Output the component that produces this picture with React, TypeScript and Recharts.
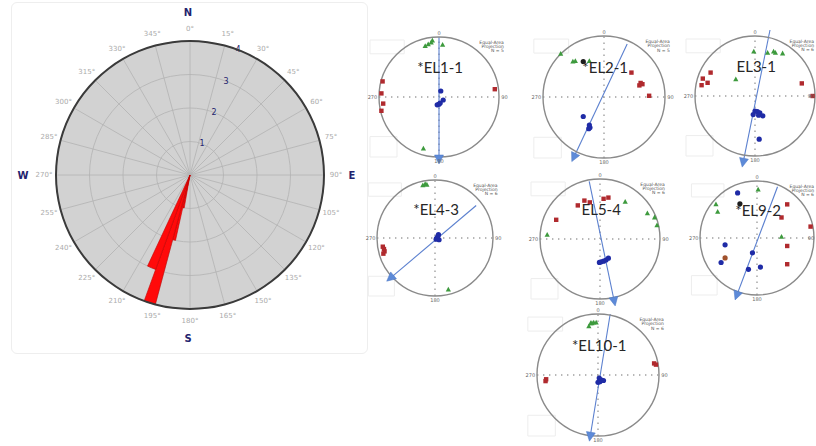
import React from 'react';
import {
  RadarChart,
  PolarGrid,
  PolarAngleAxis,
  PolarRadiusAxis,
  Radar,
  PieChart,
  Pie,
  ScatterChart,
  Scatter,
  XAxis,
  YAxis,
  ReferenceLine,
  ReferenceDot,
  ReferenceArea,
} from 'recharts';

// ---------- Rose diagram data ----------
const DIRECTIONS = [
  '0°', '15°', '30°', '45°', '60°', '75°', '90°', '105°', '120°', '135°', '150°', '165°',
  '180°', '195°', '210°', '225°', '240°', '255°', '270°', '285°', '300°', '315°', '330°', '345°',
];
const RING_COUNTS = [1, 2, 3, 4];
const MAX_COUNT = 4;
const PETAL_START = [190, 192.5, 195, 200];
const PETAL_END = [192.5, 195, 200, 205];
const PETAL_COUNT = [1, 2, 4, 3];

// ---------- Stereonet data (unit circle, x east, y north) ----------
const EL1_1_RED = [[-0.94, 0.26], [-0.96, 0.06], [-0.93, -0.11], [-0.96, -0.23], [0.93, 0.13]];
const EL1_1_GREEN = [[-0.23, 0.85], [-0.18, 0.88], [-0.13, 0.91], [-0.11, 0.94], [0.06, 0.87], [-0.26, -0.86]];
const EL1_1_BLUE = [[0.03, 0.1], [0.07, -0.05], [0, -0.12], [-0.03, -0.13], [0.02, -0.1]];
const EL1_1_LINE = [[0, 1.0], [0, -1.05]];

const EL2_1_RED = [[0.45, 0.4], [0.6, 0.23], [0.63, 0.21], [0.58, 0.19], [0.74, 0.02]];
const EL2_1_GREEN = [[-0.71, 0.71], [-0.24, 0.59], [-0.51, 0.58], [-0.47, 0.59]];
const EL2_1_BLUE = [[-0.34, -0.32], [-0.24, -0.46], [-0.23, -0.5], [-0.25, -0.52]];
const EL2_1_BLACK = [[-0.34, 0.58]];
const EL2_1_LINE = [[0.38, 0.87], [-0.5, -1.0]];

const EL3_1_RED = [[-0.74, 0.39], [-0.87, 0.29], [-0.79, 0.22], [-0.89, 0.18], [0.78, 0.21], [0.96, 0]];
const EL3_1_GREEN = [[-0.02, 0.74], [0.21, 0.72], [0.31, 0.74], [0.34, 0.72], [0.46, 0.71], [-0.32, 0.28]];
const EL3_1_BLUE = [[0, -0.25], [0.04, -0.26], [0.08, -0.28], [-0.03, -0.31], [0.06, -0.32], [0.13, -0.33], [0.07, -0.72]];
const EL3_1_LINE = [[0.25, 1.1], [-0.2, -1.12]];

const EL4_3_RED = [[-0.9, -0.15], [-0.88, -0.19], [-0.87, -0.23], [-0.89, -0.27]];
const EL4_3_GREEN = [[-0.21, 0.91], [-0.17, 0.93], [-0.14, 0.92], [0.23, -0.89]];
const EL4_3_BLUE = [[0.06, 0.06], [0.03, 0], [0.07, -0.03], [0.02, -0.02], [0.05, 0.03]];
const EL4_3_LINE = [[0.71, 0.56], [-0.78, -0.7]];

const EL5_4_RED = [[-0.37, 0.56], [-0.26, 0.64], [-0.17, 0.61], [0.06, 0.67], [0.14, 0.69], [-0.73, 0.32]];
const EL5_4_GREEN = [[0.42, 0.62], [0.79, 0.43], [0.91, 0.36], [0.95, 0.23], [-0.88, 0.07]];
const EL5_4_BLUE = [[0.02, -0.38], [0.06, -0.37], [0.1, -0.35], [0.14, -0.32], [-0.01, -0.39]];
const EL5_4_LINE = [[-0.18, 0.96], [0.24, -1.05]];

const EL9_2_RED = [[0.53, 0.59], [0.43, 0.36], [0.94, 0.2], [0.53, -0.14], [0.53, -0.46]];
const EL9_2_GREEN = [[-0.72, 0.59], [-0.69, 0.46], [0.02, 0.85], [0.43, 0.02]];
const EL9_2_BLUE = [[-0.34, 0.79], [-0.56, -0.12], [-0.08, -0.26], [-0.63, -0.43], [-0.15, -0.55], [0.06, -0.51]];
const EL9_2_BLACK = [[-0.3, 0.6]];
const EL9_2_BROWN = [[-0.56, -0.35]];
const EL9_2_LINE = [[0.36, 0.9], [-0.36, -1.02]];

const EL10_1_RED = [[0.92, 0.19], [0.95, 0.17], [-0.86, -0.1], [-0.85, -0.07]];
const EL10_1_GREEN = [[-0.15, 0.8], [-0.12, 0.85], [-0.1, 0.85], [-0.07, 0.86], [-0.03, 0.86]];
const EL10_1_BLUE = [[0.02, -0.05], [0.05, -0.08], [0.03, -0.11], [0.09, -0.09], [0, -0.12]];
const EL10_1_LINE = [[0.2, 1.0], [-0.13, -1.02]];

// ---------- Layout ----------
const PAGE_W = 816;
const ROSE_CX = 190;
const ROSE_CY = 175;
const ROSE_R = 134;
const NAVY = '#23236e';

type Pt = number[];
type NetProps = {
  cx: number;
  cy: number;
  r: number;
  name: string;
  n: string;
  red: Pt[];
  green: Pt[];
  blue: Pt[];
  black?: Pt[];
  brown?: Pt[];
  line: Pt[];
};

const toXY = (pts: Pt[]) => pts.map(([x, y]) => ({ x, y }));
const countToRadius = (c: number) => (c / MAX_COUNT) * ROSE_R;

const AngleTick = (props: any) => {
  const a = (props.payload.coordinate * Math.PI) / 180;
  const rr = ROSE_R + 12;
  const x = ROSE_CX + rr * Math.cos(a);
  const y = ROSE_CY - rr * Math.sin(a);
  return (
    <text x={x} y={y} textAnchor="middle" dominantBaseline="central" fontSize={7} fill="#ababab" fontFamily="DejaVu Sans">
      {props.payload.value}
    </text>
  );
};

const RadiusTick = (props: any) => (
  <text x={props.x} y={props.y} textAnchor="middle" dominantBaseline="central" fontSize={8} fill={NAVY} fontFamily="DejaVu Sans">
    {props.payload.value}
  </text>
);

function RoseDiagram() {
  const dirData = DIRECTIONS.map((d) => ({ dir: d, zero: 0 }));
  const one = [{ v: 1 }];
  return (
    <>
      <div style={{ position: 'absolute', left: 11, top: 2, width: 355, height: 350, border: '1px solid #eeeeee', borderRadius: 6 }} />
      <div style={{ position: 'absolute', left: 0, top: 0 }}>
        <PieChart width={380} height={360} margin={{ top: 0, right: 0, bottom: 0, left: 0 }}>
          <Pie data={one} dataKey="v" cx={ROSE_CX} cy={ROSE_CY} innerRadius={0} outerRadius={ROSE_R}
            startAngle={90} endAngle={-270} fill="#d2d2d2" stroke="none" isAnimationActive={false} />
        </PieChart>
      </div>
      <div style={{ position: 'absolute', left: 0, top: 0 }}>
        <RadarChart width={380} height={360} cx={ROSE_CX} cy={ROSE_CY} outerRadius={ROSE_R} data={dirData}
          margin={{ top: 0, right: 0, bottom: 0, left: 0 }}>
          <PolarGrid gridType="circle" stroke="#b3b3b3" strokeWidth={0.8}
            polarRadius={RING_COUNTS.map(countToRadius)}
            polarAngles={DIRECTIONS.map((_, i) => 90 - 15 * i)} />
          <PolarAngleAxis dataKey="dir" tick={AngleTick} axisLine={false} tickLine={false} />
          <PolarRadiusAxis type="number" domain={[0, MAX_COUNT]} ticks={RING_COUNTS} angle={69}
            axisLine={false} tickLine={false} tick={RadiusTick} />
          <Radar dataKey="zero" stroke="none" fill="none" isAnimationActive={false} />
        </RadarChart>
      </div>
      <div style={{ position: 'absolute', left: 0, top: 0 }}>
        <PieChart width={380} height={360} margin={{ top: 0, right: 0, bottom: 0, left: 0 }}>
          {PETAL_COUNT.map((c, i) => (
            <Pie key={i} data={one} dataKey="v" cx={ROSE_CX} cy={ROSE_CY} innerRadius={0}
              outerRadius={countToRadius(c)} startAngle={90 - PETAL_START[i]} endAngle={90 - PETAL_END[i]}
              fill="#ff0a0a" stroke="#c40000" strokeWidth={0.6} isAnimationActive={false} />
          ))}
          <Pie data={one} dataKey="v" cx={ROSE_CX} cy={ROSE_CY} innerRadius={ROSE_R - 1} outerRadius={ROSE_R + 1}
            startAngle={90} endAngle={-270} fill="#3a3a3a" stroke="none" isAnimationActive={false} />
        </PieChart>
      </div>
      {[
        ['N', ROSE_CX - 2, 13],
        ['S', ROSE_CX - 2, 339],
        ['W', 23, ROSE_CY + 1],
        ['E', 352, ROSE_CY + 1],
      ].map(([t, x, y]) => (
        <div key={t as string} style={{
          position: 'absolute', left: (x as number) - 10, top: (y as number) - 8, width: 20, height: 16,
          textAlign: 'center', lineHeight: '16px', fontFamily: 'DejaVu Sans', fontWeight: 'bold', fontSize: 10, color: NAVY,
        }}>{t}</div>
      ))}
    </>
  );
}

// Small marker shapes for the stereonet points
const squareMark = (color: string) => (p: any) => (
  <rect x={p.cx - 2.2} y={p.cy - 2.2} width={4.4} height={4.4} fill={color} />
);
const triangleMark = (color: string) => (p: any) => (
  <polygon points={`${p.cx},${p.cy - 2.8} ${p.cx - 2.6},${p.cy + 2} ${p.cx + 2.6},${p.cy + 2}`} fill={color} />
);
const dotMark = (color: string) => (p: any) => <circle cx={p.cx} cy={p.cy} r={2.6} fill={color} />;

// Text placed at a reference point; maxX keeps it inside the page edge
const textShape = (text: string, size: number, anchor: string, color: string, maxX = Infinity, family = 'DejaVu Sans') => (p: any) => {
  const half = anchor === 'middle' ? (text.length * size * 0.62) / 2 : 0;
  const x = anchor === 'start' ? p.cx : Math.min(p.cx, maxX - half);
  return (
    <text x={x} y={p.cy} textAnchor={anchor} dominantBaseline="central" fontSize={size} fill={color} fontFamily={family}>
      {text}
    </text>
  );
};

function Stereonet({ cx, cy, r, name, n, red, green, blue, black, brown, line }: NetProps) {
  const pad = 30;
  const size = 2 * (r + pad);
  const ext = (r + pad) / r;
  const left = cx - r - pad;
  const maxX = PAGE_W - 2 - left;
  const [a, b] = line;
  const ang = Math.atan2(-(b[1] - a[1]), b[0] - a[0]);
  const arrowShape = (p: any) => {
    const L = 9;
    const W = 4.5;
    const ux = Math.cos(ang);
    const uy = Math.sin(ang);
    const tipX = p.cx + ux * 4;
    const tipY = p.cy + uy * 4;
    const bx = tipX - ux * L;
    const by = tipY - uy * L;
    const pts = `${tipX},${tipY} ${bx - uy * W},${by + ux * W} ${bx + uy * W},${by - ux * W}`;
    return <polygon points={pts} fill="#5d8ad8" stroke="#4a76c4" strokeWidth={0.5} />;
  };
  return (
    <div style={{ position: 'absolute', left, top: cy - r - pad }}>
      <ScatterChart width={size} height={size} margin={{ top: 0, right: 0, bottom: 0, left: 0 }}>
        <XAxis type="number" dataKey="x" domain={[-ext, ext]} hide allowDataOverflow />
        <YAxis type="number" dataKey="y" domain={[-ext, ext]} hide allowDataOverflow />
        <ReferenceArea x1={-1.15} x2={-0.58} y1={0.72} y2={0.95} fill="none" stroke="#ededed" ifOverflow="visible" />
        <ReferenceArea x1={-1.15} x2={-0.7} y1={-1.0} y2={-0.66} fill="none" stroke="#ededed" ifOverflow="visible" />
        <ReferenceDot x={0} y={0} r={r} fill="none" stroke="#8a8a8a" strokeWidth={1.4} ifOverflow="visible" />
        <ReferenceLine segment={[{ x: -1, y: 0 }, { x: 1, y: 0 }]} stroke="#a0a0a0" strokeWidth={1.4} strokeDasharray="1.4 4.6" />
        <ReferenceLine segment={[{ x: 0, y: -1 }, { x: 0, y: 1 }]} stroke="#a0a0a0" strokeWidth={1.4} strokeDasharray="1.4 4.6" />
        <ReferenceLine segment={[{ x: a[0], y: a[1] }, { x: b[0], y: b[1] }]} stroke="#5b80cf" strokeWidth={1.1} ifOverflow="visible" />
        <Scatter data={toXY(red)} shape={squareMark('#b02a2e')} isAnimationActive={false} />
        <Scatter data={toXY(green)} shape={triangleMark('#3d9a3d')} isAnimationActive={false} />
        <Scatter data={toXY(blue)} shape={dotMark('#1f2ba6')} isAnimationActive={false} />
        {black && <Scatter data={toXY(black)} shape={dotMark('#1d1d1d')} isAnimationActive={false} />}
        {brown && <Scatter data={toXY(brown)} shape={dotMark('#a0522d')} isAnimationActive={false} />}
        <Scatter data={[{ x: b[0], y: b[1] }]} shape={arrowShape} isAnimationActive={false} />
        <ReferenceDot x={0} y={1.07} r={0} shape={textShape('0', 5, 'middle', '#666')} ifOverflow="visible" />
        <ReferenceDot x={1.09} y={0} r={0} shape={textShape('90', 5, 'middle', '#666', maxX)} ifOverflow="visible" />
        <ReferenceDot x={0} y={-1.07} r={0} shape={textShape('180', 5, 'middle', '#666')} ifOverflow="visible" />
        <ReferenceDot x={-1.11} y={0} r={0} shape={textShape('270', 5, 'middle', '#666')} ifOverflow="visible" />
        <ReferenceDot x={1.08} y={0.91} r={0} shape={textShape('Equal-Area', 4.5, 'end', '#555', maxX)} ifOverflow="visible" />
        <ReferenceDot x={1.08} y={0.84} r={0} shape={textShape('Projection', 4.5, 'end', '#555', maxX)} ifOverflow="visible" />
        <ReferenceDot x={1.08} y={0.77} r={0} shape={textShape(`N = ${n}`, 4.5, 'end', '#555', maxX)} ifOverflow="visible" />
        <ReferenceDot x={0.02} y={0.5} r={0} shape={textShape(name, 15, 'middle', '#262626', Infinity, 'Lato')} ifOverflow="visible" />
      </ScatterChart>
    </div>
  );
}

export default function App() {
  return (
    <div style={{ position: 'fixed', left: 0, top: 0, width: PAGE_W, height: 446, overflow: 'hidden', background: '#ffffff' }}>
      <RoseDiagram />
      <Stereonet cx={439} cy={97} r={60} name="*EL1-1" n="5" red={EL1_1_RED} green={EL1_1_GREEN} blue={EL1_1_BLUE} line={EL1_1_LINE} />
      <Stereonet cx={604} cy={97} r={61} name="*EL2-1" n="5" red={EL2_1_RED} green={EL2_1_GREEN} blue={EL2_1_BLUE} black={EL2_1_BLACK} line={EL2_1_LINE} />
      <Stereonet cx={755} cy={96} r={60} name="EL3-1" n="6" red={EL3_1_RED} green={EL3_1_GREEN} blue={EL3_1_BLUE} line={EL3_1_LINE} />
      <Stereonet cx={435} cy={238} r={58} name="*EL4-3" n="6" red={EL4_3_RED} green={EL4_3_GREEN} blue={EL4_3_BLUE} line={EL4_3_LINE} />
      <Stereonet cx={600} cy={239} r={60} name="EL5-4" n="6" red={EL5_4_RED} green={EL5_4_GREEN} blue={EL5_4_BLUE} line={EL5_4_LINE} />
      <Stereonet cx={757} cy={238} r={57} name="*EL9-2" n="6" red={EL9_2_RED} green={EL9_2_GREEN} blue={EL9_2_BLUE} black={EL9_2_BLACK} brown={EL9_2_BROWN} line={EL9_2_LINE} />
      <Stereonet cx={598} cy={375} r={61} name="*EL10-1" n="6" red={EL10_1_RED} green={EL10_1_GREEN} blue={EL10_1_BLUE} line={EL10_1_LINE} />
    </div>
  );
}
